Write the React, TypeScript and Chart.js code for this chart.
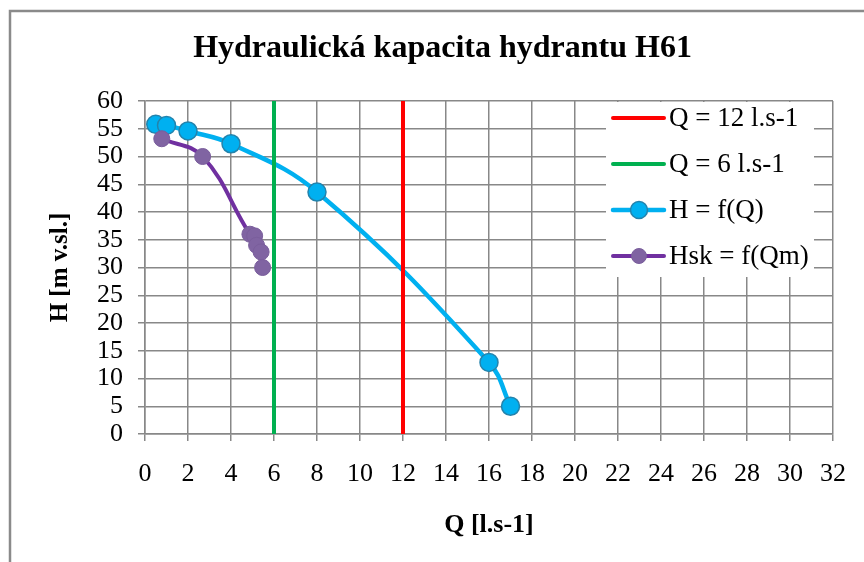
import React, { useEffect, useRef } from "react";
import { Chart, registerables } from "chart.js";

Chart.register(...registerables);

const TITLE = "Hydraulická kapacita hydrantu H61";
const X_TITLE = "Q [l.s-1]";
const Y_TITLE = "H [m v.sl.]";
const SERIES_LABELS = ["Q = 12 l.s-1", "Q = 6 l.s-1", "H = f(Q)", "Hsk = f(Qm)"];

const Q12_X = [12, 12];
const Q12_Y = [0, 60];
const Q6_X = [6, 6];
const Q6_Y = [0, 60];
const HQ_X = [0.5, 1, 2, 4, 8, 16, 17];
const HQ_Y = [55.8, 55.6, 54.6, 52.3, 43.6, 12.9, 5.0];
const HSK_X = [0.78, 2.68, 4.88, 5.1, 5.19, 5.4, 5.47];
const HSK_Y = [53.2, 50.0, 36.0, 35.7, 34.0, 32.8, 30.0];

const X_MIN = 0;
const X_MAX = 32;
const X_STEP = 2;
const Y_MIN = 0;
const Y_MAX = 60;
const Y_STEP = 5;

const FONT = "'Liberation Serif', 'Times New Roman', serif";
const GRID = "#888888";

const pts = (xs: number[], ys: number[]) => xs.map((x, i) => ({ x, y: ys[i] }));

const framePlugin = {
  id: "frame",
  beforeDraw(chart: any) {
    const ctx = chart.ctx;
    ctx.save();
    ctx.fillStyle = "#ffffff";
    ctx.fillRect(0, 0, chart.width, chart.height);
    ctx.strokeStyle = "#8a8a8a";
    ctx.lineWidth = 2.5;
    ctx.strokeRect(10, 11, chart.width + 20, chart.height + 20);
    ctx.restore();
  },
  afterDraw(chart: any) {
    const ctx = chart.ctx;
    const ds = chart.data.datasets;
    ctx.save();
    ctx.fillStyle = "#ffffff";
    ctx.fillRect(606, 102, 208, 175);
    const y0 = 118;
    const dy = 46;
    ds.forEach((d: any, i: number) => {
      const y = y0 + i * dy;
      ctx.strokeStyle = d.borderColor;
      ctx.lineWidth = d.borderWidth;
      ctx.lineCap = "round";
      ctx.beginPath();
      ctx.moveTo(613, y);
      ctx.lineTo(664, y);
      ctx.stroke();
      if (d.pointRadius > 0) {
        ctx.beginPath();
        ctx.arc(639, y, d.pointRadius - 0.5, 0, Math.PI * 2);
        ctx.fillStyle = d.pointBackgroundColor;
        ctx.fill();
        ctx.lineWidth = d.pointBorderWidth;
        ctx.strokeStyle = d.pointBorderColor;
        ctx.stroke();
      }
      ctx.fillStyle = "#000000";
      ctx.font = `27px ${FONT}`;
      ctx.textAlign = "left";
      ctx.textBaseline = "middle";
      ctx.fillText(d.label, 669, y + 1);
    });
    ctx.restore();
  },
};

export default function App() {
  const ref = useRef<HTMLCanvasElement | null>(null);

  useEffect(() => {
    if (!ref.current) return;
    Chart.defaults.font.family = FONT;
    const chart = new Chart(ref.current, {
      type: "scatter",
      data: {
        datasets: [
          {
            label: SERIES_LABELS[0],
            data: pts(Q12_X, Q12_Y),
            showLine: true,
            borderColor: "#FF0000",
            backgroundColor: "#FF0000",
            borderWidth: 4,
            pointRadius: 0,
            order: 2,
          },
          {
            label: SERIES_LABELS[1],
            data: pts(Q6_X, Q6_Y),
            showLine: true,
            borderColor: "#00B050",
            backgroundColor: "#00B050",
            borderWidth: 4,
            pointRadius: 0,
            order: 2,
          },
          {
            label: SERIES_LABELS[2],
            data: pts(HQ_X, HQ_Y),
            showLine: true,
            borderColor: "#00B0F0",
            backgroundColor: "#00B0F0",
            borderWidth: 4.5,
            tension: 0.4,
            pointRadius: 9,
            pointBackgroundColor: "#00B0F0",
            pointBorderColor: "#2383AC",
            pointBorderWidth: 1.5,
            order: 3,
          },
          {
            label: SERIES_LABELS[3],
            data: pts(HSK_X, HSK_Y),
            showLine: true,
            borderColor: "#7030A0",
            backgroundColor: "#7030A0",
            borderWidth: 4,
            tension: 0.4,
            pointRadius: 8,
            pointBackgroundColor: "#8064A2",
            pointBorderColor: "#7A5E9C",
            pointBorderWidth: 1,
            order: 1,
          },
        ] as any,
      },
      options: {
        responsive: false,
        animation: false,
        layout: { padding: { left: 52, right: 31, top: 0, bottom: 0 } },
        plugins: {
          legend: { display: false },
          tooltip: { enabled: false },
          title: {
            display: true,
            text: TITLE,
            color: "#000000",
            font: { family: FONT, size: 32, weight: "bold" },
            padding: { top: 30, bottom: 32.6 },
          },
        },
        scales: {
          x: {
            type: "linear",
            min: X_MIN,
            max: X_MAX,
            ticks: {
              stepSize: X_STEP,
              autoSkip: false,
              maxRotation: 0,
              color: "#000000",
              font: { size: 26 },
              padding: 18,
            },
            grid: { color: GRID, lineWidth: 1.5, tickLength: 7, drawTicks: true },
            border: { color: GRID, width: 1.5 },
            title: {
              display: true,
              text: X_TITLE,
              color: "#000000",
              font: { size: 26, weight: "bold" },
              padding: { top: 0, bottom: 21.4 },
            },
            afterFit: (s: any) => {
              s.height = 128;
            },
          },
          y: {
            type: "linear",
            min: Y_MIN,
            max: Y_MAX,
            ticks: {
              stepSize: Y_STEP,
              autoSkip: false,
              color: "#000000",
              font: { size: 26 },
              padding: 15,
            },
            grid: { color: GRID, lineWidth: 1.5, tickLength: 7, drawTicks: true },
            border: { color: GRID, width: 1.5 },
            title: {
              display: true,
              text: Y_TITLE,
              color: "#000000",
              font: { size: 25, weight: "bold" },
              padding: { top: -6, bottom: 0 },
            },
            afterFit: (s: any) => {
              s.width = 93;
            },
          },
        },
      } as any,
      plugins: [framePlugin],
    });
    return () => chart.destroy();
  }, []);

  return (
    <div style={{ position: "absolute", left: 0, top: 0, width: 864, height: 562 }}>
      <canvas ref={ref} width={864} height={562} style={{ display: "block" }} />
    </div>
  );
}
